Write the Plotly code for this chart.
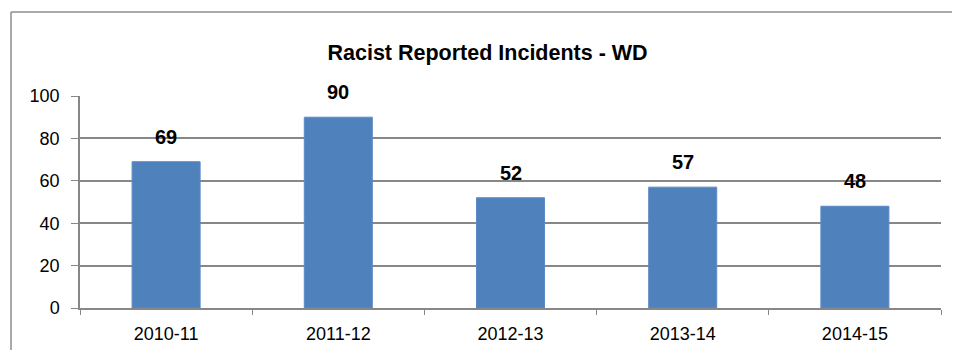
import plotly.graph_objects as go

# data
years = ["2010-11", "2011-12", "2012-13", "2013-14", "2014-15"]
incidents = [69, 90, 52, 57, 48]
y_ticks = [0, 20, 40, 60, 80, 100]

FONT = "Liberation Sans, Arial, sans-serif"
GRID = "#878787"
BORDER = "#8C8C8C"

fig = go.Figure()

fig.add_trace(go.Bar(
    x=years, y=incidents,
    marker=dict(color="#4F81BD", line=dict(color="#5A8AC6", width=1)),
    width=0.395,
    hoverinfo="x+y",
))

# bold value labels above each bar
for yr, v in zip(years, incidents):
    fig.add_annotation(
        x=yr, y=v, text=f"<b>{v}</b>", showarrow=False,
        yanchor="bottom", yshift=12,
        font=dict(family=FONT, size=20, color="black"),
    )

# outer chart border: only the left and top edges are inside the picture,
# kept within the figure so the page doesn't overflow
border = dict(type="line", xref="paper", yref="paper",
              xsizemode="pixel", ysizemode="pixel", xanchor=0, yanchor=1,
              line=dict(color=BORDER, width=1.5), layer="below")
fig.add_shape(**border, x0=-69, x1=-69, y0=84, y1=-254)
fig.add_shape(**border, x0=-69, x1=872, y0=84, y1=84)

# page body has an 8px margin, so the figure is 16px smaller than the window
fig.update_layout(
    width=944, height=342,
    margin=dict(l=72, r=11, t=88, b=42, autoexpand=False),
    paper_bgcolor="white", plot_bgcolor="white",
    showlegend=False,
    title=dict(
        text="<b>Racist Reported Incidents - WD</b>",
        x=0.508, xanchor="center", y=0.871, yanchor="middle",
        font=dict(family=FONT, size=21.5, color="black"),
    ),
    font=dict(family=FONT, size=18, color="black"),
)

fig.update_xaxes(
    type="category", showgrid=False, automargin=False,
    showline=True, linecolor=GRID, linewidth=1.5,
    ticks="outside", tickson="boundaries", ticklen=5, tickcolor=GRID,
    ticklabelstandoff=9,
    tickfont=dict(family=FONT, size=18),
)
fig.update_yaxes(
    range=[0, 100], tickvals=y_ticks, automargin=False,
    showgrid=True, gridcolor=GRID, gridwidth=1.5,
    showline=True, linecolor=GRID, linewidth=1.5,
    ticks="outside", ticklen=7, tickcolor=GRID,
    ticklabelstandoff=8, zeroline=False,
    tickfont=dict(family=FONT, size=18),
)

fig.write_html("out.html")
